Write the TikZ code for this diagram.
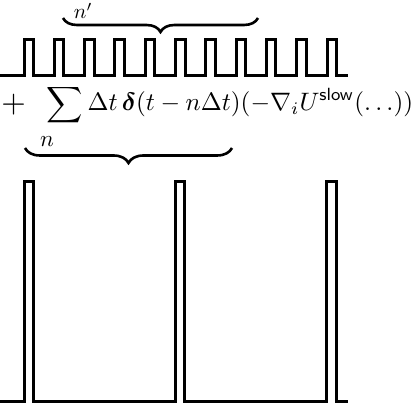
\documentclass[tikz,border=0pt]{standalone}
\usepackage{amsmath}
\usetikzlibrary{decorations.pathreplacing}
\begin{document}
\begin{tikzpicture}[x=1pt,y=-1pt,
  wave/.style={line width=3pt, line join=miter},
  bracestyle/.style={line width=2.6pt, decorate, decoration={brace, mirror, amplitude=#1}},
  mathlabel/.style={inner sep=0pt, outer sep=0pt}]
\useasboundingbox (0,0) rectangle (416,406);
% top pulse train
\draw[wave] (0,76) foreach \k in {0,...,10} { -- ({24+30.3*\k},76) -- ({24+30.3*\k},40) -- ({33.5+30.3*\k},40) -- ({33.5+30.3*\k},76) } -- (348,76);
% bottom pulse train
\draw[wave] (0,402) foreach \k in {0,1,2} { -- ({24+151.3*\k},402) -- ({24+151.3*\k},182) -- ({33.5+151.3*\k},182) -- ({33.5+151.3*\k},402) } -- (348,402);
% braces
\coordinate (tb1) at (63,18);
\coordinate (tb2) at (258,18);
\coordinate (bb1) at (25,148);
\coordinate (bb2) at (232,148);
\draw[bracestyle=14pt] (tb1) -- (tb2);
\draw[bracestyle=15pt] (bb1) -- (bb2);
% labels
\node[mathlabel, anchor=base west] (nprime) at (74,19) {\scalebox{2.1}{$n'$}};
\node[mathlabel, anchor=base west] (formula) at (1.5,111) {\scalebox{2.52}{$\displaystyle \vcenter{\hbox{\scalebox{1.25}{$+$}}}\mkern12mu\sum \Delta t\,\boldsymbol{\delta}(t-n\Delta t)(-\nabla_i U^{\mathsf{slow}}(\ldots))$}};
\node[mathlabel, anchor=base west] (nsub) at (40,147) {\scalebox{2.3}{$n$}};
\end{tikzpicture}
\end{document}
